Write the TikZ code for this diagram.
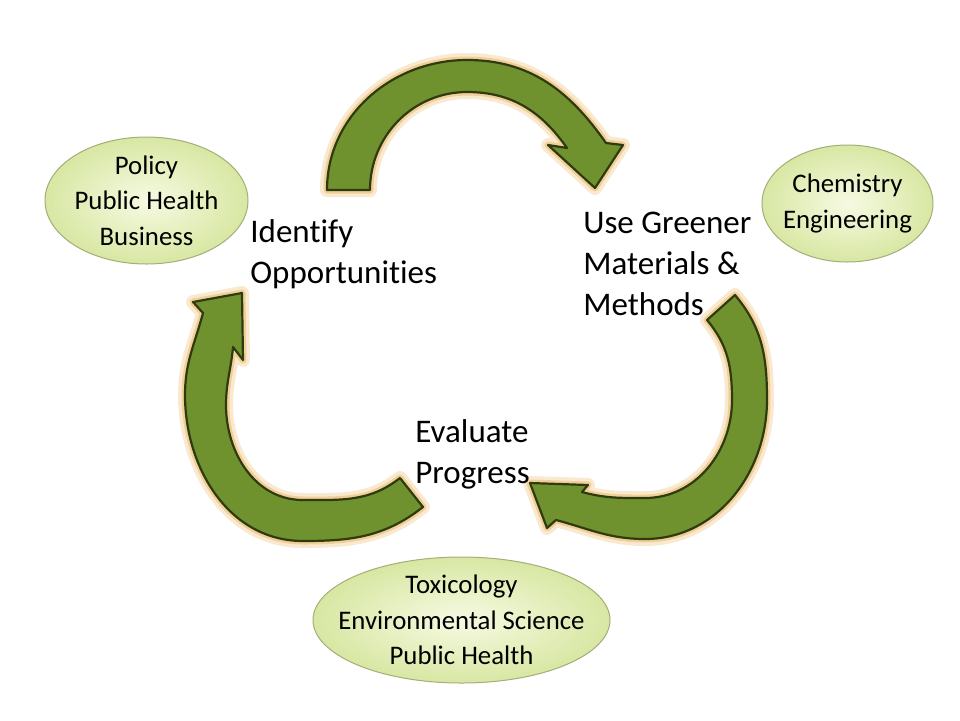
\documentclass[tikz,border=0pt]{standalone}
\usepackage{fontspec}
\setmainfont{Carlito}[Ligatures=CommonOff]
\usetikzlibrary{shapes.geometric}

\definecolor{arrowgreen}{HTML}{6F912E}
\definecolor{arrowedge}{HTML}{2E3A12}
\definecolor{glowcol}{HTML}{F2CF96}
\definecolor{fieldin}{HTML}{F6FAE2}
\definecolor{fieldout}{HTML}{D8E7A3}
\definecolor{fieldedge}{HTML}{A3AE78}

\begin{document}
\begin{tikzpicture}[x=0.5pt,y=0.5pt,
  stage/.style={anchor=base west,align=left,inner sep=0pt,font=\fontsize{16.5}{20.5}\selectfont},
  field/.style={ellipse,draw=fieldedge,line width=0.5pt,inner color=fieldin,outer color=fieldout,
    align=center,inner xsep=-20pt,inner ysep=-12pt,font=\fontsize{13.4}{17.75}\selectfont},
  bigarrow/.style={fill=arrowgreen,draw=arrowedge,line width=1.1pt,line join=round,
    preaction={draw=glowcol,line width=7pt,line join=round,opacity=0.45},
    preaction={draw=glowcol,line width=3.5pt,line join=round}}]
\useasboundingbox (0,0) rectangle (960,-720);
\node (policy) [field,minimum width=101.5pt,minimum height=63.5pt] at (146.5,-200.5) {Policy\\Public Health\\Business};
\node (chem) [field,minimum width=85.5pt,minimum height=58.5pt] at (847.5,-203.5) {Chemistry\\Engineering};
\node (tox) [field,minimum width=148.5pt,minimum height=63pt] at (461.5,-620) {Toxicology\\Environmental Science\\Public Health};
\draw [bigarrow] (327,-190) to[out=90,in=180] (467,-60) to[out=0,in=125] (606,-143) -- (623,-145) -- (595,-188) -- (548,-145) -- (567,-148) to[out=125,in=0] (467,-92) to[out=180,in=90] (370,-190) -- cycle;
\draw [bigarrow] (735,-295) to[out=-50,in=90] (767,-400) to[out=-90,in=0] (645,-539) to[out=180,in=-15] (556,-520) -- (547,-528) -- (530,-483) -- (588,-485) -- (582,-492) to[out=-15,in=180] (645,-498) to[out=0,in=-90] (732,-400) to[out=90,in=-50] (707,-320) -- cycle;
\draw [bigarrow] (423,-507) to[out=218,in=0] (303,-541) to[out=180,in=-90] (185,-395) to[out=90,in=-105] (203,-313) -- (193,-302) -- (242,-293) -- (243,-360) -- (233,-347) to[out=-95,in=90] (226,-405) to[out=-90,in=180] (303,-500) to[out=0,in=218] (400,-478) -- cycle;
\node (identify) [stage] at (250,-283) {Identify\\Opportunities};
\node (greener) [stage] at (583,-315) {Use Greener\\Materials \&\\Methods};
\node (evaluate) [stage] at (415,-483) {Evaluate\\Progress};
\end{tikzpicture}
\end{document}
